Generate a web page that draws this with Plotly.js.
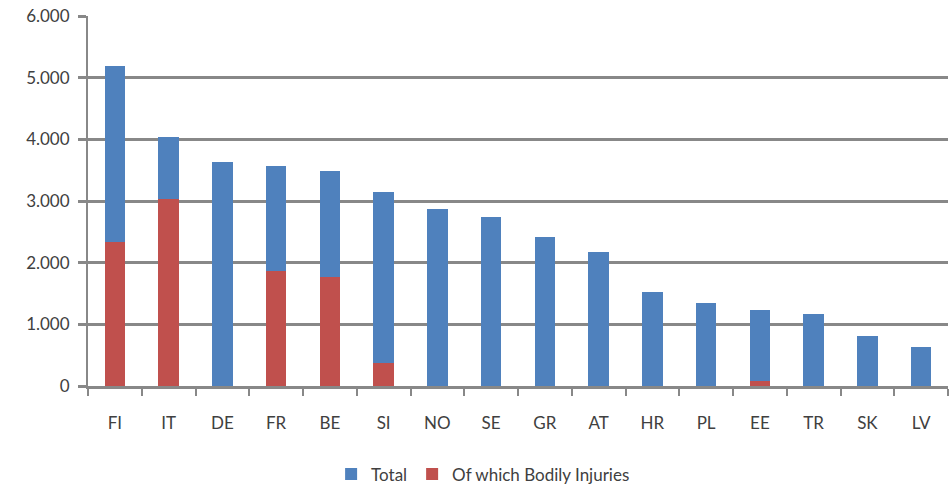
<!DOCTYPE html>
<html>
<head>
<meta charset="utf-8">
<script src="https://cdn.plot.ly/plotly-3.0.1.min.js"></script>
<style>html,body{margin:0;padding:0;background:#fff;}#chart{width:951px;height:485px;}</style>
</head>
<body>
<div id="chart"></div>
<script>
const countries = ["FI","IT","DE","FR","BE","SI","NO","SE","GR","AT","HR","PL","EE","TR","SK","LV"];
const total = [5190,4040,3640,3560,3490,3150,2865,2735,2420,2180,1530,1340,1230,1160,815,630];
const bodily = [2340,3040,0,1865,1760,380,0,0,0,0,0,0,85,0,0,0];
const yTicks = [0,1000,2000,3000,4000,5000,6000];
const yTickText = ["0","1.000","2.000","3.000","4.000","5.000","6.000"];

const blue = "#4F81BD", red = "#C0504D";
const remainder = total.map((t,i)=>t - bodily[i]);

const traces = [
  {type:"bar", x:countries, y:bodily, name:"Of which Bodily Injuries", marker:{color:red}, showlegend:false, hoverinfo:"skip"},
  {type:"bar", x:countries, y:remainder, name:"Total", marker:{color:blue}, customdata:total},
  {type:"bar", x:[countries[0]], y:[null], name:"Of which Bodily Injuries", marker:{color:red}}
];

const layout = {
  width:951, height:485,
  margin:{l:88, r:3, t:16, b:99},
  barmode:"stack",
  bargap:0.615,
  paper_bgcolor:"#fff", plot_bgcolor:"#fff",
  font:{family:"Lato, 'Open Sans', sans-serif", size:17, color:"#404040"},
  xaxis:{
    type:"category",
    showline:true, linecolor:"#888888", linewidth:3,
    ticks:"outside", tickson:"boundaries", ticklen:7, tickwidth:2, tickcolor:"#888888",
    ticklabelstandoff:20,
    tickfont:{size:17, color:"#404040"},
    showgrid:false, zeroline:false
  },
  yaxis:{
    range:[0,6000],
    tickvals:yTicks, ticktext:yTickText,
    showline:true, linecolor:"#888888", linewidth:2,
    ticks:"outside", ticklen:8, tickwidth:3, tickcolor:"#888888",
    ticklabelstandoff:5,
    showgrid:true, gridcolor:"#888888", gridwidth:3,
    zeroline:false,
    tickfont:{size:17, color:"#404040"}
  },
  legend:{
    orientation:"h", xref:"container", yref:"container",
    x:0.508, xanchor:"center", y:0.022, yanchor:"middle",
    font:{size:17, color:"#404040"}, traceorder:"normal",
    itemwidth:30
  }
};

Plotly.newPlot("chart", traces, layout, {displayModeBar:false, staticPlot:true});
</script>
</body>
</html>
